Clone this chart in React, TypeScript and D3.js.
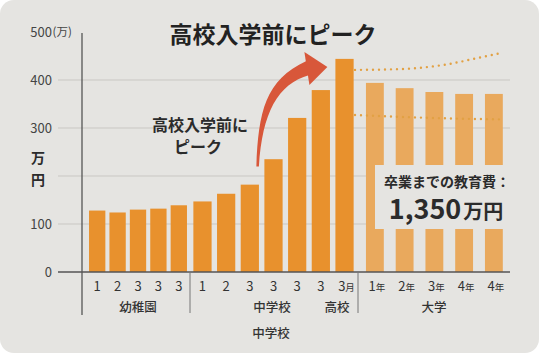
import React from "react";
import * as d3 from "d3";

// ---- data ----
const kinderLabels = ["1", "2", "3", "3", "3"];
const kinderValues = [128, 124, 130, 132, 139];
const schoolLabels = ["1", "2", "3", "3", "3", "3", "3"];
const schoolValues = [147, 163, 182, 235, 321, 379, 444];
const collegeLabels = ["1", "2", "3", "4", "4"];
const collegeValues = [394, 383, 375, 371, 371];
const yTicks = [0, 100, 200, 300, 400, 500];
const yTickLabels = ["0", "100", "", "300", "400", "500"];
const trendUpper: [number, number][] = [[-0.1, 421], [1, 422], [2, 425], [3, 433], [4, 446], [4.75, 456]];
const trendLower: [number, number][] = [[-0.1, 327], [1.5, 323], [3, 320], [4.75, 318]];

const W = 541, H = 355;
const FONT = "'Noto Sans CJK JP', 'Noto Sans', sans-serif";
const BG = "#e5e4e1";
const DARK = "#2b2b2b";
const BAR = "#e8912d";
const BAR_LIGHT = "#e9a95d";

export default function App() {
  const y = d3.scaleLinear().domain([0, 500]).range([272, 32]);
  const x1 = d3.scaleBand<number>().domain(d3.range(5)).range([87, 189]).paddingInner(0.2).paddingOuter(0.1);
  const x2 = d3.scaleBand<number>().domain(d3.range(7)).range([191, 356]).paddingInner(0.23).paddingOuter(0.1);
  const x3 = d3.scaleBand<number>().domain(d3.range(5)).range([360, 508.75]).paddingInner(0.4).paddingOuter(0.2);
  const xc = d3.scaleLinear().domain([0, 5]).range([358, 508]);

  const line = d3.line<[number, number]>().x(d => xc(d[0])).y(d => y(d[1])).curve(d3.curveMonotoneX);

  const groups = [
    { sc: x1, vals: kinderValues, labs: kinderLabels, color: BAR, suffix: (i: number) => "" },
    { sc: x2, vals: schoolValues, labs: schoolLabels, color: BAR, suffix: (i: number) => (i === 6 ? "月" : "") },
    { sc: x3, vals: collegeValues, labs: collegeLabels, color: BAR_LIGHT, suffix: (i: number) => "年" },
  ];

  // arrow anchored to bars
  const ax0 = (x2(3) as number) - 7, ay0 = y(220);
  const ax1 = (x2(6) as number) - 32, ay1 = y(425);
  const arrowBody =
    `M${ax0 - 1},${ay0} C${ax0 + 1},${ay0 - 55} ${ax0 + 8},${ay1 + 12} ${ax1 + 3},${ay1 - 7} ` +
    `L${ax1 + 6},${ay1 + 7} C${ax0 + 20},${ay1 + 16} ${ax0 + 5},${ay1 + 45} ${ax0 + 1.5},${ay0} Z`;
  const head = `M${ax1 + 1},${ay1 - 16} L${ax1 + 24},${ay1 - 1} L${ax1 + 6},${ay1 + 17} Z`;

  return (
    <svg width={W} height={H} style={{ position: "fixed", left: 0, top: 0, background: "#fff" }} fontFamily={FONT}>
      <rect x={0} y={0} width={539} height={353} rx={14} fill={BG} />

      {/* gridlines */}
      {yTicks.filter(t => t > 0 && t < 500).map(t => (
        <line key={t} x1={58} x2={510} y1={y(t)} y2={y(t)} stroke="#c9c7c3" strokeWidth={1} />
      ))}

      {/* bars */}
      {groups.map((g, gi) =>
        g.vals.map((v, i) => (
          <rect key={`${gi}-${i}`} x={g.sc(i)} y={y(v)} width={g.sc.bandwidth()} height={y(0) - y(v)} fill={g.color} />
        ))
      )}

      {/* trend dotted lines */}
      <path d={line(trendUpper) || ""} fill="none" stroke="#e2a144" strokeWidth={2.4} strokeDasharray="0 6" strokeLinecap="round" />
      <path d={line(trendLower) || ""} fill="none" stroke="#e2a144" strokeWidth={2.4} strokeDasharray="0 6" strokeLinecap="round" />

      {/* summary box */}
      <rect x={375} y={165} width={137} height={64} fill={BG} />
      <text x={447} y={187} textAnchor="middle" fontSize={14} fontWeight={700} fill={DARK}>卒業までの教育費：</text>
      <text x={446} y={219} textAnchor="middle" fill={DARK} fontWeight={700}>
        <tspan fontSize={27}>1,350</tspan>
        <tspan fontSize={20} dx={2}>万円</tspan>
      </text>

      {/* axes */}
      <line x1={58} x2={510} y1={y(0)} y2={y(0)} stroke="#555" strokeWidth={1.3} />
      <line x1={82} x2={82} y1={33} y2={315} stroke="#555" strokeWidth={1.3} />
      <line x1={190} x2={190} y1={y(0)} y2={313} stroke="#777" strokeWidth={1} />
      <line x1={358} x2={358} y1={y(0)} y2={313} stroke="#777" strokeWidth={1} />

      {yTicks.map((t, i) => yTickLabels[i] ? (
        <text key={t} x={52} y={y(t)} dy="0.36em" textAnchor="end" fontSize={13} fill="#444">{yTickLabels[i]}</text>
      ) : null)}
      <text x={52.5} y={y(500)} dy="0.36em" fontSize={11.5} fill="#444">(万)</text>
      <text x={38} y={163} textAnchor="middle" fontSize={14} fontWeight={700} fill={DARK}>万</text>
      <text x={38} y={185} textAnchor="middle" fontSize={14} fontWeight={700} fill={DARK}>円</text>

      {/* x tick labels */}
      {groups.map((g, gi) =>
        g.labs.map((l, i) => {
          const cx = (g.sc(i) as number) + g.sc.bandwidth() / 2;
          const suf = g.suffix(i);
          return (
            <text key={`l${gi}-${i}`} x={cx + (suf ? 2 : 0)} y={291} textAnchor="middle" fontSize={13} fill="#333">
              {l}
              {suf && <tspan fontSize={9.5}>{suf}</tspan>}
            </text>
          );
        })
      )}
      <text x={138} y={312} textAnchor="middle" fontSize={12.5} fill="#333" fontWeight={500}>幼稚園</text>
      <text x={272} y={312} textAnchor="middle" fontSize={12.5} fill="#333" fontWeight={500}>中学校</text>
      <text x={337} y={312} textAnchor="middle" fontSize={12.5} fill="#333" fontWeight={500}>高校</text>
      <text x={434} y={312} textAnchor="middle" fontSize={12.5} fill="#333" fontWeight={500}>大学</text>
      <text x={271} y={338} textAnchor="middle" fontSize={12.5} fill="#333" fontWeight={500}>中学校</text>

      {/* title */}
      <text x={273} y={43} textAnchor="middle" fontSize={23} fontWeight={700} fill="#222">高校入学前にピーク</text>

      {/* annotation */}
      <text x={200} y={131} textAnchor="middle" fontSize={16} fontWeight={700} fill={DARK}>高校入学前に</text>
      <text x={198} y={153} textAnchor="middle" fontSize={16} fontWeight={700} fill={DARK}>ピーク</text>
      <path d={arrowBody} fill="#d8573a" />
      <path d={head} fill="#d8573a" />
    </svg>
  );
}
